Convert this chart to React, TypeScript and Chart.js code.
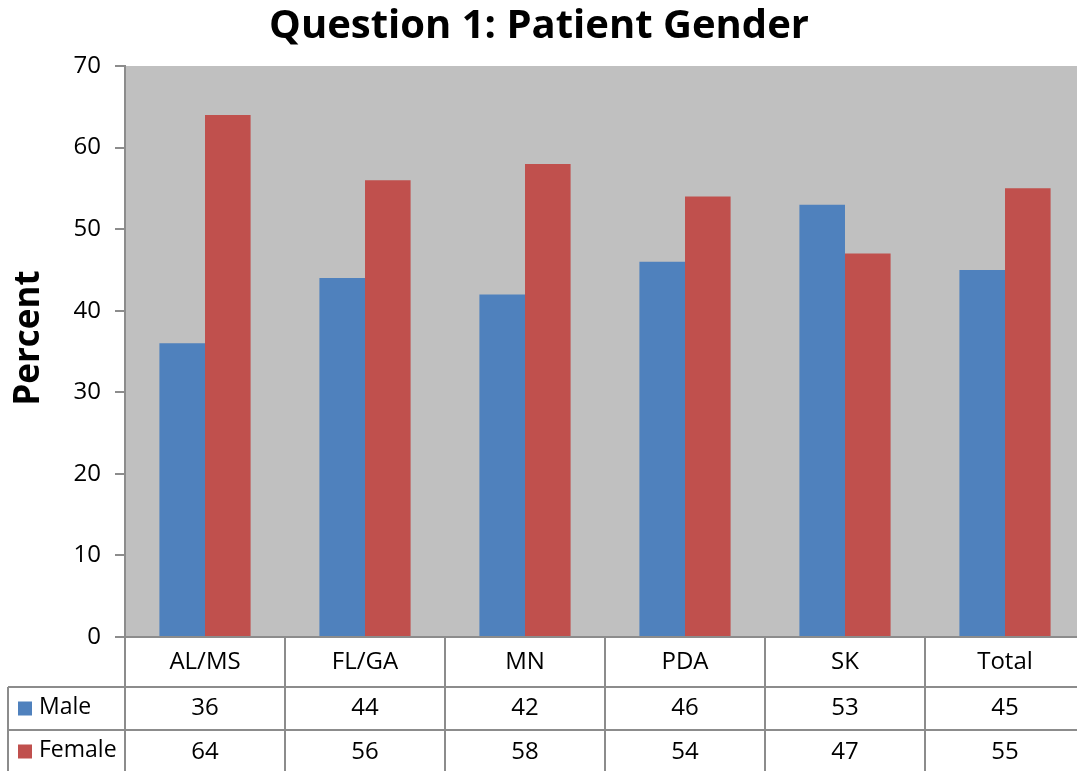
import React, { useEffect, useRef } from "react";
import { Chart, registerables } from "chart.js";

Chart.register(...registerables);

const categories = ["AL/MS", "FL/GA", "MN", "PDA", "SK", "Total"];
const maleValues = [36, 44, 42, 46, 53, 45];
const femaleValues = [64, 56, 58, 54, 47, 55];
const seriesNames = ["Male", "Female"];
const chartTitle = "Question 1: Patient Gender";
const yTitle = "Percent";

const BLUE = "#4F81BD";
const RED = "#C0504D";
const LINE = "#8C8C8C";
const FONT = "'Open Sans', 'Noto Sans', sans-serif";

const tablePlugin = {
  id: "tablePlugin",
  beforeDraw(chart: any) {
    const { ctx, chartArea } = chart;
    ctx.save();
    ctx.fillStyle = "#C0C0C0";
    ctx.fillRect(chartArea.left, chartArea.top, chartArea.right - chartArea.left, chartArea.bottom - chartArea.top);
    ctx.restore();
  },
  afterDraw(chart: any) {
    const { ctx, chartArea } = chart;
    const x = chart.scales.x;
    const n = categories.length;
    const left = chartArea.left;
    const right = chartArea.right;
    const catW = (right - left) / n;
    const top = chartArea.bottom;
    const r1 = top + 50;
    const r2 = r1 + 43;
    const r3 = r2 + 43;
    const legendLeft = 8;
    ctx.save();
    ctx.strokeStyle = LINE;
    ctx.lineWidth = 2;
    ctx.beginPath();
    ctx.moveTo(left, top);
    ctx.lineTo(right, top);
    ctx.moveTo(legendLeft, r1);
    ctx.lineTo(right, r1);
    ctx.moveTo(legendLeft, r2);
    ctx.lineTo(right, r2);
    ctx.moveTo(legendLeft, r3);
    ctx.lineTo(right, r3);
    for (let i = 0; i <= n; i++) {
      const vx = left + i * catW;
      ctx.moveTo(vx, top);
      ctx.lineTo(vx, r3);
    }
    ctx.moveTo(legendLeft, r1);
    ctx.lineTo(legendLeft, r3);
    ctx.stroke();

    ctx.fillStyle = "#000";
    ctx.font = `24px ${FONT}`;
    ctx.textAlign = "center";
    ctx.textBaseline = "middle";
    const rows = [maleValues, femaleValues];
    for (let i = 0; i < n; i++) {
      const cx = x.getPixelForValue(i);
      ctx.fillText(categories[i], cx, (top + r1) / 2);
      ctx.fillText(String(rows[0][i]), cx, (r1 + r2) / 2);
      ctx.fillText(String(rows[1][i]), cx, (r2 + r3) / 2 + 1);
    }
    const colors = [BLUE, RED];
    const rowMid = [(r1 + r2) / 2, (r2 + r3) / 2];
    ctx.textAlign = "left";
    ctx.font = `23px ${FONT}`;
    for (let s = 0; s < 2; s++) {
      ctx.fillStyle = colors[s];
      ctx.fillRect(18, rowMid[s] - 7, 14, 14);
      ctx.fillStyle = "#000";
      ctx.fillText(seriesNames[s], 39, rowMid[s] - 1);
    }

    ctx.font = `bold 40px ${FONT}`;
    ctx.textAlign = "center";
    ctx.fillText(chartTitle, 539, 27);

    ctx.save();
    ctx.translate(29, 338);
    ctx.rotate(-Math.PI / 2);
    ctx.font = `bold 35px ${FONT}`;
    ctx.fillText(yTitle, 0, 0);
    ctx.restore();
    ctx.restore();
  },
};

export default function App() {
  const ref = useRef<HTMLCanvasElement>(null);
  useEffect(() => {
    if (!ref.current) return;
    const chart = new Chart(ref.current, {
      type: "bar",
      data: {
        labels: categories,
        datasets: [
          { label: seriesNames[0], data: maleValues, backgroundColor: BLUE, borderWidth: 0 },
          { label: seriesNames[1], data: femaleValues, backgroundColor: RED, borderWidth: 0 },
        ],
      },
      options: {
        animation: false,
        responsive: false,
        maintainAspectRatio: false,
        layout: { padding: { top: 66, bottom: 134, left: 0, right: 5 } },
        datasets: { bar: { categoryPercentage: 0.57, barPercentage: 1 } } as any,
        plugins: { legend: { display: false }, title: { display: false }, tooltip: { enabled: false } },
        scales: {
          x: {
            display: false,
          },
          y: {
            min: 0,
            max: 70,
            afterFit: (s: any) => {
              s.width = 125;
            },
            ticks: { stepSize: 10, padding: 14, color: "#000", font: { size: 24, family: FONT } },
            grid: { drawOnChartArea: false, drawTicks: true, tickLength: 10, color: LINE, lineWidth: 2 },
            border: { display: true, color: LINE, width: 2 },
          },
        },
      },
      plugins: [tablePlugin],
    });
    return () => chart.destroy();
  }, []);
  return (
    <div style={{ position: "fixed", left: 0, top: 0, width: 1077, height: 771, overflow: "hidden", background: "#fff" }}>
      <canvas ref={ref} width={1090} height={771} style={{ width: 1090, height: 771, display: "block" }} />
    </div>
  );
}
